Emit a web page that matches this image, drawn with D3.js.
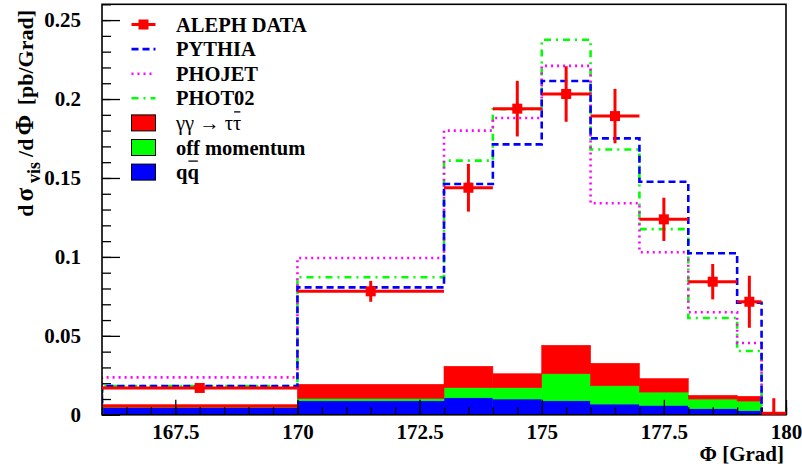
<!DOCTYPE html>
<html>
<head>
<meta charset="utf-8">
<script src="https://cdn.jsdelivr.net/npm/d3@7"></script>
<style>
  body { margin: 0; background: #fff; }
  svg { display: block; }
  text { font-family: "Liberation Serif", "Times New Roman", serif; }
</style>
</head>
<body>
<svg id="chart" width="802" height="473"></svg>
<script>
// Histogram bin edges for the Monte Carlo predictions and backgrounds
const mcEdges = [166, 170, 173, 174, 175, 176, 177, 178, 179, 179.5];

// Generator predictions (pb/Grad), one value per bin
const pythia = [0.0182, 0.0807, 0.1462, 0.1713, 0.2114, 0.1751, 0.1476, 0.1023, 0.0710];
const phojet = [0.0237, 0.0993, 0.1800, 0.1880, 0.2210, 0.1340, 0.1030, 0.0650, 0.0455];
const phot02 = [0.0182, 0.0871, 0.1610, 0.1935, 0.2375, 0.1680, 0.1176, 0.0613, 0.0404];

// Stacked backgrounds (bottom to top)
const qqbar       = [0.0045, 0.0089, 0.0108, 0.0100, 0.0089, 0.0068, 0.0060, 0.0039, 0.0026];
const offMomentum = [0.0003, 0.0015, 0.0064, 0.0072, 0.0171, 0.0116, 0.0084, 0.0061, 0.0061];
const tautau      = [0.0016, 0.0089, 0.0135, 0.0088, 0.0180, 0.0142, 0.0085, 0.0023, 0.0030];

// ALEPH measurement
const dataLow  = [166, 170, 173, 174, 175, 176, 177, 178, 179, 179.5];
const dataHigh = [170, 173, 174, 175, 176, 177, 178, 179, 179.5, 180];
const dataX    = [168, 171.5, 173.5, 174.5, 175.5, 176.5, 177.5, 178.5, 179.25, 179.75];
const dataY    = [0.0170, 0.0782, 0.1438, 0.1939, 0.2032, 0.1892, 0.1238, 0.0843, 0.0716, 0];
const dataErr  = [0.0020, 0.0066, 0.0151, 0.0176, 0.0176, 0.0172, 0.0137, 0.0112, 0.0165, 0.0105];

// Axis ticks
const xMajorTicks = [167.5, 170, 172.5, 175, 177.5, 180];
const yMajorTicks = [0, 0.05, 0.1, 0.15, 0.2, 0.25];

const RED = "#ff0000", GREEN = "#00ff00", BLUE = "#0000ff", MAGENTA = "#ff00ff";

const svg = d3.select("#chart");
const frameL = 102, frameR = 786, frameT = 4.3, frameB = 414.8;

const x = d3.scaleLinear().domain([166, 180]).range([frameL, frameR]);
const y = d3.scaleLinear().domain([0, 0.26]).range([frameB, frameT]);

svg.append("defs").append("clipPath").attr("id", "plotArea")
  .append("rect").attr("x", frameL).attr("y", frameT)
  .attr("width", frameR - frameL).attr("height", frameB - frameT);

const plot = svg.append("g").attr("clip-path", "url(#plotArea)");

// ---- stacked background fills ----
const bins = mcEdges.slice(0, -1).map((e, i) => ({
  lo: e, hi: mcEdges[i + 1], qq: qqbar[i], off: offMomentum[i], tt: tautau[i]
}));
const stack = d3.stack().keys(["qq", "off", "tt"])(bins);
const fillColor = { qq: BLUE, off: GREEN, tt: RED };
stack.forEach(layer => {
  plot.append("g").selectAll("rect").data(layer).join("rect")
    .attr("x", d => x(d.data.lo))
    .attr("width", d => x(d.data.hi) - x(d.data.lo))
    .attr("y", d => y(d[1]))
    .attr("height", d => y(d[0]) - y(d[1]))
    .attr("fill", fillColor[layer.key])
    .attr("stroke", fillColor[layer.key])
    .attr("stroke-width", 0.6);
});

// ---- generator histograms as step outlines ----
function outline(vals) {
  const pts = [[mcEdges[0], 0]];
  vals.forEach((v, i) => { pts.push([mcEdges[i], v]); pts.push([mcEdges[i + 1], v]); });
  pts.push([mcEdges[mcEdges.length - 1], 0]);
  return pts;
}
const line = d3.line().x(d => x(d[0])).y(d => y(d[1]));
const styles = [
  { vals: phot02, color: GREEN,   dash: "7,5,2,5" },
  { vals: phojet, color: MAGENTA, dash: "2,4" },
  { vals: pythia, color: BLUE,    dash: "7,4" }
];
styles.forEach(s => {
  plot.append("path").attr("d", line(outline(s.vals)))
    .attr("fill", "none").attr("stroke", s.color)
    .attr("stroke-width", 2.6).attr("stroke-dasharray", s.dash);
});

// ---- axes ----
const fmt = d => d === 0 ? "0" : String(+d.toFixed(3));

const xMinor = svg.append("g").attr("transform", `translate(0,${frameB})`)
  .call(d3.axisBottom(x).tickValues(d3.range(166, 180.01, 0.5)).tickSize(-7.5).tickFormat(""));
const xMajor = svg.append("g").attr("transform", `translate(0,${frameB})`)
  .call(d3.axisBottom(x).tickValues(xMajorTicks).tickSize(-15).tickPadding(9).tickFormat(fmt));
const yMinor = svg.append("g").attr("transform", `translate(${frameL},0)`)
  .call(d3.axisLeft(y).tickValues(d3.range(0, 0.2601, 0.01)).tickSize(-9).tickFormat(""));
const yMajor = svg.append("g").attr("transform", `translate(${frameL},0)`)
  .call(d3.axisLeft(y).tickValues(yMajorTicks).tickSize(-18).tickPadding(21).tickFormat(fmt));

[xMinor, xMajor, yMinor, yMajor].forEach(g => {
  g.select(".domain").remove();
  g.selectAll(".tick line").attr("stroke", "#000").attr("stroke-width", 1.3);
  g.selectAll(".tick text").attr("fill", "#000")
    .style("font-family", '"Liberation Serif", serif')
    .style("font-size", "21px").style("font-weight", "bold");
});

// frame
svg.append("rect").attr("x", frameL).attr("y", frameT)
  .attr("width", frameR - frameL).attr("height", frameB - frameT)
  .attr("fill", "none").attr("stroke", "#000").attr("stroke-width", 1.6);

// ---- data points with error bars (drawn above the frame) ----
const data = dataX.map((v, i) => ({ x: v, lo: dataLow[i], hi: dataHigh[i], y: dataY[i], e: dataErr[i] }));
const dg = svg.append("g");
dg.selectAll("line.h").data(data).join("line").attr("class", "h")
  .attr("x1", d => x(d.lo)).attr("x2", d => x(d.hi))
  .attr("y1", d => y(d.y) - (d.y === 0 ? 1.5 : 0)).attr("y2", d => y(d.y) - (d.y === 0 ? 1.5 : 0))
  .attr("stroke", RED).attr("stroke-width", 3);
dg.selectAll("line.v").data(data).join("line").attr("class", "v")
  .attr("x1", d => x(d.x)).attr("x2", d => x(d.x))
  .attr("y1", d => y(Math.max(0, d.y - d.e))).attr("y2", d => y(d.y + d.e))
  .attr("stroke", RED).attr("stroke-width", 3);
dg.selectAll("rect").data(data.filter(d => d.y > 0)).join("rect")
  .attr("x", d => x(d.x) - 5).attr("y", d => y(d.y) - 5)
  .attr("width", 10).attr("height", 10).attr("fill", RED);

// axis titles
svg.append("text").attr("x", 784).attr("y", 461).attr("text-anchor", "end")
  .style("font-size", "21px").style("font-weight", "bold").text("Φ [Grad]");

const yt = svg.append("text")
  .attr("transform", "translate(33,10) rotate(-90)")
  .attr("text-anchor", "end")
  .style("font-size", "22px").style("font-weight", "bold");
yt.append("tspan").text("d");
yt.append("tspan").attr("dx", 3).style("font-size", "25px").text("σ");
yt.append("tspan").attr("dx", 5).attr("dy", 7).style("font-size", "18px").text("vis");
yt.append("tspan").attr("dx", 5).attr("dy", -7).text("/d");
yt.append("tspan").attr("dx", 3).style("font-size", "25px").text("Φ");
yt.append("tspan").attr("dx", 4).text(" [pb/Grad]");

// ---- legend ----
const legY0 = 24.5, legStep = 24.6, symL = 131.5, symR = 155.5, textX = 176;
const legend = svg.append("g");
const legendEntries = [
  { type: "data",  label: "ALEPH DATA" },
  { type: "line",  label: "PYTHIA",  color: BLUE,    dash: "7,4" },
  { type: "line",  label: "PHOJET",  color: MAGENTA, dash: "2,4" },
  { type: "line",  label: "PHOT02",  color: GREEN,   dash: "7,5,2,5" },
  { type: "fill",  label: "γγ → ττ", color: RED,  bar: 1 },
  { type: "fill",  label: "off momentum", color: GREEN },
  { type: "fill",  label: "qq", color: BLUE, bar: 1 }
];
legendEntries.forEach((e, i) => {
  const cy = legY0 + i * legStep;
  if (e.type === "data") {
    legend.append("line").attr("x1", symL).attr("x2", symR).attr("y1", cy).attr("y2", cy)
      .attr("stroke", RED).attr("stroke-width", 3);
    legend.append("rect").attr("x", (symL + symR) / 2 - 5).attr("y", cy - 5)
      .attr("width", 10).attr("height", 10).attr("fill", RED);
  } else if (e.type === "line") {
    legend.append("line").attr("x1", symL).attr("x2", symR).attr("y1", cy).attr("y2", cy)
      .attr("stroke", e.color).attr("stroke-width", 2.6).attr("stroke-dasharray", e.dash);
  } else {
    legend.append("rect").attr("x", symL).attr("y", cy - 8)
      .attr("width", symR - symL).attr("height", 16)
      .attr("fill", e.color).attr("stroke", "#000").attr("stroke-width", 1);
  }
  const t = legend.append("text").attr("x", textX).attr("y", cy + 7)
    .style("font-size", "20.5px")
    .style("font-weight", e.label.startsWith("γ") ? "normal" : "bold")
    .text(e.label);
  if (e.bar) {
    // overline on the last character (antiparticle)
    const node = t.node();
    const n = e.label.length - 1;
    const p0 = node.getStartPositionOfChar(n), p1 = node.getEndPositionOfChar(n);
    legend.append("line")
      .attr("x1", p0.x + 1).attr("x2", p1.x - 1)
      .attr("y1", cy - 11).attr("y2", cy - 11)
      .attr("stroke", "#000").attr("stroke-width", 1.3);
  }
});
</script>
</body>
</html>
